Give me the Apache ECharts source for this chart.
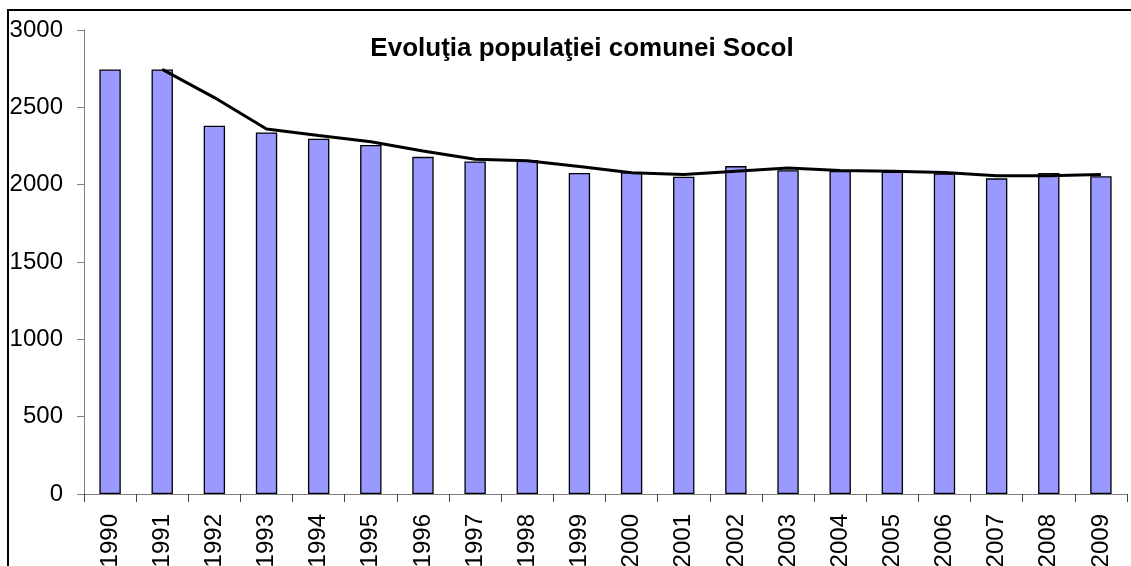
<!DOCTYPE html>
<html>
<head>
<meta charset="utf-8">
<script src="https://cdn.jsdelivr.net/npm/echarts@6/dist/echarts.min.js"></script>
<style>
html,body{margin:0;padding:0;background:#fff;}
#c{width:1131px;height:566px;}
</style>
</head>
<body>
<div id="c"></div>
<script>
var years = ['1990','1991','1992','1993','1994','1995','1996','1997','1998','1999','2000','2001','2002','2003','2004','2005','2006','2007','2008','2009'];
var population = [2745,2745,2381,2338,2297,2256,2180,2150,2159,2075,2080,2051,2120,2094,2088,2084,2073,2041,2075,2054];
var trend = [null,2745,2563,2360,2318,2277,2218,2165,2155,2117,2077,2065,2086,2107,2091,2086,2079,2057,2058,2065];
var yTicks = [0,500,1000,1500,2000,2500,3000];
var titleText = 'Evoluţia populaţiei comunei Socol';

var chart = echarts.init(document.getElementById('c'), null, {renderer:'canvas'});
var font = 'Liberation Sans, Arial, sans-serif';
chart.setOption({
  animation:false,
  backgroundColor:'#fff',
  title:{
    text:titleText,
    left:577, top:31, textAlign:'center',
    textStyle:{fontFamily:font,fontWeight:'bold',fontSize:26,color:'#000'}
  },
  graphic:[{
    type:'rect',
    shape:{x:8,y:10,width:1200,height:700},
    style:{fill:null,stroke:'#000',lineWidth:2},
    silent:true
  }],
  grid:{left:84,top:30,right:4,bottom:72,containLabel:false,outerBoundsMode:'none'},
  xAxis:{
    type:'category',
    data:years,
    boundaryGap:true,
    axisLine:{lineStyle:{color:'#808080',width:1}},
    axisTick:{show:true,alignWithLabel:false,length:8,lineStyle:{color:'#404040'}},
    axisLabel:{rotate:90,fontFamily:font,fontSize:24,color:'#000',margin:20,interval:0}
  },
  yAxis:{
    type:'value',
    min:yTicks[0], max:yTicks[yTicks.length-1], interval:500,
    axisLine:{show:true,lineStyle:{color:'#808080',width:1}},
    axisTick:{show:true,length:7,lineStyle:{color:'#808080'}},
    axisLabel:{fontFamily:font,fontSize:24,color:'#000',margin:21,formatter:function(v){return String(v);}},
    splitLine:{show:false}
  },
  series:[{
    type:'bar',
    data:population,
    barWidth:'41%',
    itemStyle:{color:'#9999FF',borderColor:'#000',borderWidth:1.3}
  },{
    type:'line',
    data:trend,
    symbol:'none',
    connectNulls:false,
    lineStyle:{color:'#000',width:3},
    z:5
  }]
});
</script>
</body>
</html>
